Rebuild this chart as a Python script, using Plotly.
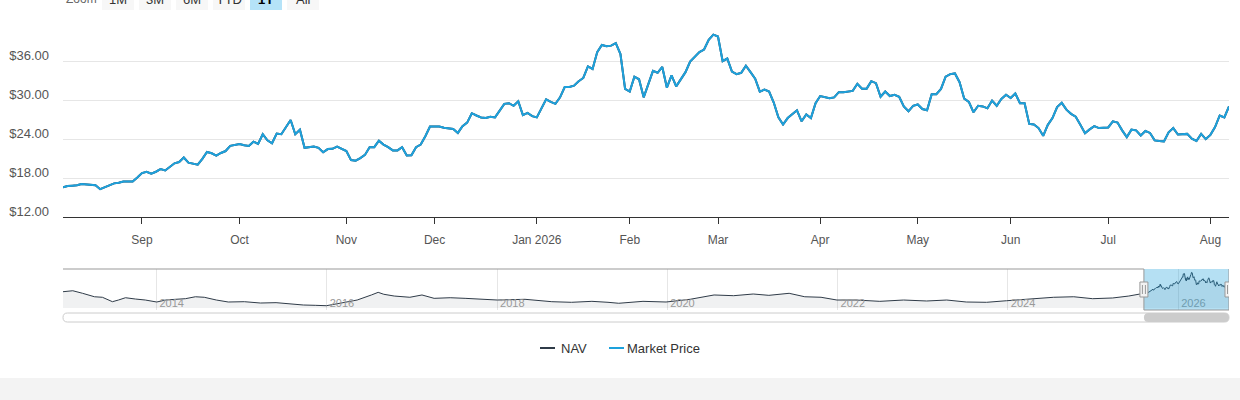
import pandas as pd
import plotly.graph_objects as go

# ---------------- data ----------------
# NYSE closures inside the 1Y window (the stock axis skips them)
market_holidays = ["2025-09-01", "2025-11-27", "2025-12-25", "2026-01-01", "2026-01-19",
                   "2026-02-16", "2026-04-03", "2026-05-25", "2026-06-19", "2026-07-03"]
first_day = "2025-08-07"
last_day = "2026-08-07"

# daily market price over the 1Y window
market_price = [
    16.6, 16.8, 16.85, 16.9, 17.1, 17.0, 16.9, 16.9, 16.3, 16.6,
    16.9, 17.2, 17.3, 17.5, 17.5, 17.5, 18.1, 18.8, 19.0, 18.7,
    19.0, 19.4, 19.2, 19.8, 20.3, 20.5, 21.2, 20.4, 20.2, 20.1,
    21.0, 22.05, 21.85, 21.5, 21.9, 22.2, 23.0, 23.1, 23.3, 23.1,
    23.0, 23.65, 23.3, 24.8, 23.85, 23.4, 24.9, 24.8, 25.9, 27.0,
    24.8, 25.5, 22.7, 22.85, 22.9, 22.7, 22.0, 22.5, 22.55, 22.9,
    22.6, 22.2, 20.8, 20.7, 21.1, 21.6, 22.8, 22.8, 23.8, 23.2,
    22.8, 22.3, 22.3, 22.8, 21.5, 21.55, 22.8, 23.2, 24.5, 26.0,
    26.0, 26.0, 25.8, 25.7, 25.6, 25.0, 26.05, 26.6, 28.05, 27.7,
    27.4, 27.3, 27.5, 27.4, 28.4, 29.5, 29.6, 29.2, 29.9, 27.75,
    28.1, 27.6, 27.4, 28.8, 30.2, 29.8, 29.5, 30.5, 32.1, 32.1,
    32.3, 33.0, 33.5, 35.3, 34.9, 37.5, 38.6, 38.4, 38.5, 38.9,
    37.2, 31.8, 31.4, 33.7, 33.3, 30.5, 32.6, 34.6, 34.3, 35.2,
    32.0, 33.9, 32.2, 33.3, 34.4, 36.05, 36.7, 37.5, 37.9, 39.4,
    40.2, 39.9, 36.1, 36.5, 34.5, 34.1, 34.3, 35.4, 34.4, 33.4,
    31.4, 31.7, 31.4, 29.7, 27.4, 26.3, 27.3, 27.85, 28.5, 26.8,
    27.85, 27.3, 29.6, 30.7, 30.5, 30.35, 30.5, 31.3, 31.3, 31.4,
    31.5, 32.6, 31.85, 31.85, 33.0, 32.7, 30.6, 31.4, 30.7, 30.9,
    30.6, 29.1, 28.35, 29.2, 29.4, 28.7, 28.5, 31.0, 31.0, 31.8,
    33.7, 34.1, 34.2, 32.85, 30.3, 29.8, 28.2, 29.2, 29.1, 28.8,
    30.0, 29.2, 30.25, 30.9, 30.4, 31.1, 29.6, 29.6, 26.4, 26.3,
    25.75, 24.55, 26.25, 27.3, 29.0, 29.65, 28.6, 27.95, 27.5, 26.25,
    24.95, 25.55, 26.05, 25.75, 25.8, 25.85, 26.8, 26.6, 25.4, 24.35,
    25.5, 25.4, 24.6, 25.3, 25.0, 23.85, 23.75, 23.7, 25.1, 25.75,
    24.75, 24.75, 24.85, 24.1, 23.75, 24.85, 24.05, 24.7, 25.9, 27.7,
    27.4, 29.1,
]
# NAV sits right underneath the market price over the window
nav_recent = list(market_price)

# older NAV history, only seen in the navigator
nav_history_dates = [
    "2012-11-26", "2013-01-07", "2013-02-18", "2013-04-10", "2013-05-14", "2013-06-26",
    "2013-07-22", "2013-08-21", "2013-10-03", "2013-11-14", "2014-01-02", "2014-02-10",
    "2014-03-24", "2014-05-05", "2014-06-17", "2014-07-25", "2014-09-15", "2014-11-05",
    "2015-01-13", "2015-03-23", "2015-05-29", "2015-08-03", "2015-09-23", "2015-11-13",
    "2015-12-31", "2016-03-11", "2016-05-11", "2016-07-11", "2016-08-09", "2016-09-02",
    "2016-10-17", "2016-12-23", "2017-02-13", "2017-04-06", "2017-06-14", "2017-08-17",
    "2017-10-25", "2018-01-02", "2018-05-01", "2018-08-24", "2018-11-16", "2019-02-12",
    "2019-04-22", "2019-06-07", "2019-09-19", "2019-12-27", "2020-04-08", "2020-07-20",
    "2020-10-12", "2021-01-04", "2021-03-12", "2021-06-07", "2021-08-13", "2021-10-22",
    "2021-12-29", "2022-03-21", "2022-07-01", "2022-10-11", "2023-01-18", "2023-04-14",
    "2023-07-07", "2023-10-02", "2023-12-27", "2024-04-04", "2024-07-16", "2024-10-10",
    "2024-12-30", "2025-03-26", "2025-06-03",
]
nav_history = [
    18.4, 19.5, 16.6, 12.7, 12.1, 7.1,
    9.0, 11.6, 10.1, 9.0, 6.75, 9.0,
    9.8, 10.5, 12.7, 12.1, 9.0, 6.75,
    7.1, 5.6, 6.0, 4.15, 3.36, 3.0,
    2.56, 6.0, 9.0, 14.7, 17.7, 15.5,
    13.5, 12.1, 14.7, 10.9, 11.6, 10.9,
    10.1, 9.0, 9.8, 7.1, 6.4, 7.5,
    6.4, 5.3, 7.5, 6.75, 9.8, 14.7,
    13.9, 15.8, 14.3, 16.6, 12.7, 12.1,
    9.0, 9.0, 7.5, 9.0, 7.9, 9.0,
    6.75, 6.4, 8.2, 10.5, 12.1, 12.7,
    10.5, 11.3, 13.5,
]

month_ticks = ["2025-09-02", "2025-10-01", "2025-11-03", "2025-12-01", "2026-01-02", "2026-02-02",
               "2026-03-02", "2026-04-01", "2026-05-01", "2026-06-01", "2026-07-01", "2026-08-03"]
month_labels = ["Sep", "Oct", "Nov", "Dec", "Jan 2026", "Feb", "Mar", "Apr", "May", "Jun", "Jul", "Aug"]
price_ticks = [12, 18, 24, 30, 36, 42]
price_labels = ["$12.00", "$18.00", "$24.00", "$30.00", "$36.00", ""]
zoom_buttons = ["1M", "3M", "6M", "YTD", "1Y", "All"]
active_button = "1Y"

NAV_COLOR = "#2f3b48"
PRICE_COLOR = "#1da1dc"
FONT = "Liberation Sans, Arial, sans-serif"

# ---------------- geometry helpers ----------------
W, H = 1240, 400
ML, MR, MT, MB = 63, 11, 23, 90
PW, PH = W - ML - MR, H - MT - MB


def px(x):
    return (x - ML) / PW


def py(y):
    return (H - MB - y) / PH


def pill(w, h2):
    r = h2
    return (f"M {r},{h2} L {w - r},{h2} Q {w},{h2} {w},0 Q {w},{-h2} {w - r},{-h2} "
            f"L {r},{-h2} Q 0,{-h2} 0,0 Q 0,{h2} {r},{h2} Z")


trading_days = pd.bdate_range(first_day, last_day, freq="C", holidays=market_holidays)
nav_dates = list(pd.to_datetime(nav_history_dates)) + list(trading_days)
nav_all = nav_history + nav_recent

fig = go.Figure()
fig.add_trace(go.Scatter(x=trading_days, y=nav_recent, name="NAV", mode="lines",
                         line=dict(color=NAV_COLOR, width=2)))
fig.add_trace(go.Scatter(x=trading_days, y=market_price, name="Market Price", mode="lines",
                         line=dict(color=PRICE_COLOR, width=2)))
# navigator series
fig.add_trace(go.Scatter(x=nav_dates, y=nav_all, xaxis="x2", yaxis="y2", mode="lines",
                         line=dict(color=NAV_COLOR, width=1), fill="tozeroy",
                         fillcolor="rgba(47,59,72,0.07)", hoverinfo="skip"))

fig.update_layout(
    width=W, height=H,
    margin=dict(l=ML, r=MR, t=MT, b=MB, autoexpand=False),
    paper_bgcolor="white", plot_bgcolor="white",
    showlegend=False,
    font=dict(family=FONT, color="#333333"),
    xaxis=dict(domain=[0, 1], anchor="y", type="date", automargin=False,
               range=[trading_days[0], trading_days[-1]],
               rangebreaks=[dict(bounds=["sat", "mon"]), dict(values=market_holidays)],
               tickvals=month_ticks, ticktext=month_labels,
               ticks="outside", ticklen=6, tickcolor="#333333",
               showline=True, linecolor="#333333", linewidth=1,
               showgrid=False, zeroline=False, ticklabelstandoff=6,
               tickfont=dict(size=12, color="#555555")),
    yaxis=dict(domain=[py(217), 1], anchor="x", range=[12, 42], automargin=False,
               tickvals=price_ticks, ticktext=price_labels,
               showgrid=True, gridcolor="#e6e6e6", gridwidth=1,
               zeroline=False, showline=False, ticks="",
               ticklabelstandoff=13, ticklabelshift=-6,
               tickfont=dict(size=13, color="#555555")),
    xaxis2=dict(domain=[0, 1], anchor="y2", type="date", automargin=False,
                range=[nav_dates[0], nav_dates[-1]],
                tick0="2014-01-01", dtick="M24", tickformat="%Y",
                ticklabelposition="inside right", ticks="",
                ticklabelstandoff=-5, ticklabelshift=3,
                showgrid=True, gridcolor="#e6e6e6", showline=False, zeroline=False,
                tickfont=dict(size=11, color="#999999")),
    yaxis2=dict(domain=[0, py(269)], anchor="x2", range=[-2.3, 44.1], automargin=False,
                showticklabels=False, showgrid=False, zeroline=False),
)

mask_start, mask_end = trading_days[0], trading_days[-1]
nav_top, nav_bot = py(269), py(310)

# selected window in the navigator
fig.add_shape(type="rect", xref="x2", yref="paper", x0=mask_start, x1=mask_end,
              y0=nav_bot, y1=nav_top, fillcolor="rgba(29,161,220,0.33)",
              line_width=0, layer="above")
# navigator outline
outline = [(nav_dates[0], nav_top, mask_start, nav_top),
           (mask_start, nav_top, mask_start, nav_bot),
           (mask_start, nav_bot, mask_end, nav_bot),
           (mask_end, nav_bot, mask_end, nav_top)]
for x0, y0, x1, y1 in outline:
    fig.add_shape(type="line", xref="x2", yref="paper", x0=x0, y0=y0, x1=x1, y1=y1,
                  line=dict(color="#999999", width=1), layer="above")
# handles
for d in (mask_start, mask_end):
    fig.add_shape(type="rect", xref="x2", xsizemode="pixel", xanchor=d, x0=-4, x1=4,
                  yref="paper", y0=py(297), y1=py(282),
                  fillcolor="#f2f2f2", line=dict(color="#999999", width=1), layer="above")
    for gx in (-1.5, 1.5):
        fig.add_shape(type="line", xref="x2", xsizemode="pixel", xanchor=d, x0=gx, x1=gx,
                      yref="paper", y0=py(294), y1=py(285),
                      line=dict(color="#999999", width=1), layer="above")

# scrollbar
fig.add_shape(type="path", xref="paper", xsizemode="pixel", xanchor=0,
              yref="paper", ysizemode="pixel", yanchor=py(317.5),
              path=pill(PW, 4.5), fillcolor="white", line=dict(color="#cccccc", width=1))
span_sel = (mask_end - mask_start).total_seconds()
span_all = (nav_dates[-1] - nav_dates[0]).total_seconds()
thumb_w = PW * span_sel / span_all
fig.add_shape(type="path", xref="x2", xsizemode="pixel", xanchor=mask_start,
              yref="paper", ysizemode="pixel", yanchor=py(317.5),
              path=pill(thumb_w, 4.5), fillcolor="#cccccc", line_width=0)

# range selector row (cut off at the top like the reference)
fig.add_annotation(text="Zoom", xref="paper", yref="paper", x=0, y=1, xshift=1, yshift=24,
                   xanchor="left", yanchor="middle", showarrow=False,
                   font=dict(size=12, color="#666666"))
for i, label in enumerate(zoom_buttons):
    left = 39 + 37 * i
    on = label == active_button
    fig.add_shape(type="rect", xref="paper", xsizemode="pixel", xanchor=0, x0=left, x1=left + 32,
                  yref="paper", ysizemode="pixel", yanchor=1, y0=13, y1=31,
                  fillcolor="#b5e3f8" if on else "#f7f7f7", line_width=0)
    fig.add_annotation(text=f"<b>{label}</b>" if on else label, xref="paper", yref="paper",
                       x=0, y=1, xshift=left + 16, yshift=24,
                       xanchor="center", yanchor="middle", showarrow=False,
                       font=dict(size=13, color="#000000" if on else "#333333"))

# legend (symbol start, text start in page pixels)
legend_items = [("NAV", NAV_COLOR, 540, 559), ("Market Price", PRICE_COLOR, 609, 625)]
for name, color, lx, tx in legend_items:
    fig.add_shape(type="line", xref="paper", yref="paper", x0=px(lx), x1=px(lx + 15),
                  y0=py(348), y1=py(348), line=dict(color=color, width=2))
    fig.add_annotation(text=name, xref="paper", yref="paper", x=px(tx), y=py(348),
                       xanchor="left", yanchor="middle", showarrow=False,
                       font=dict(size=13, color="#333333"))

# page background strip under the chart
fig.add_shape(type="rect", xref="paper", yref="paper", x0=px(0), x1=px(W),
              y0=py(400), y1=py(378), fillcolor="#f3f3f3", line_width=0, layer="below")

# the page's default 8px body margin would push the figure off the window
fig.write_html("out.html", config={"displayModeBar": False},
               post_script="document.body.style.margin = '0';")
